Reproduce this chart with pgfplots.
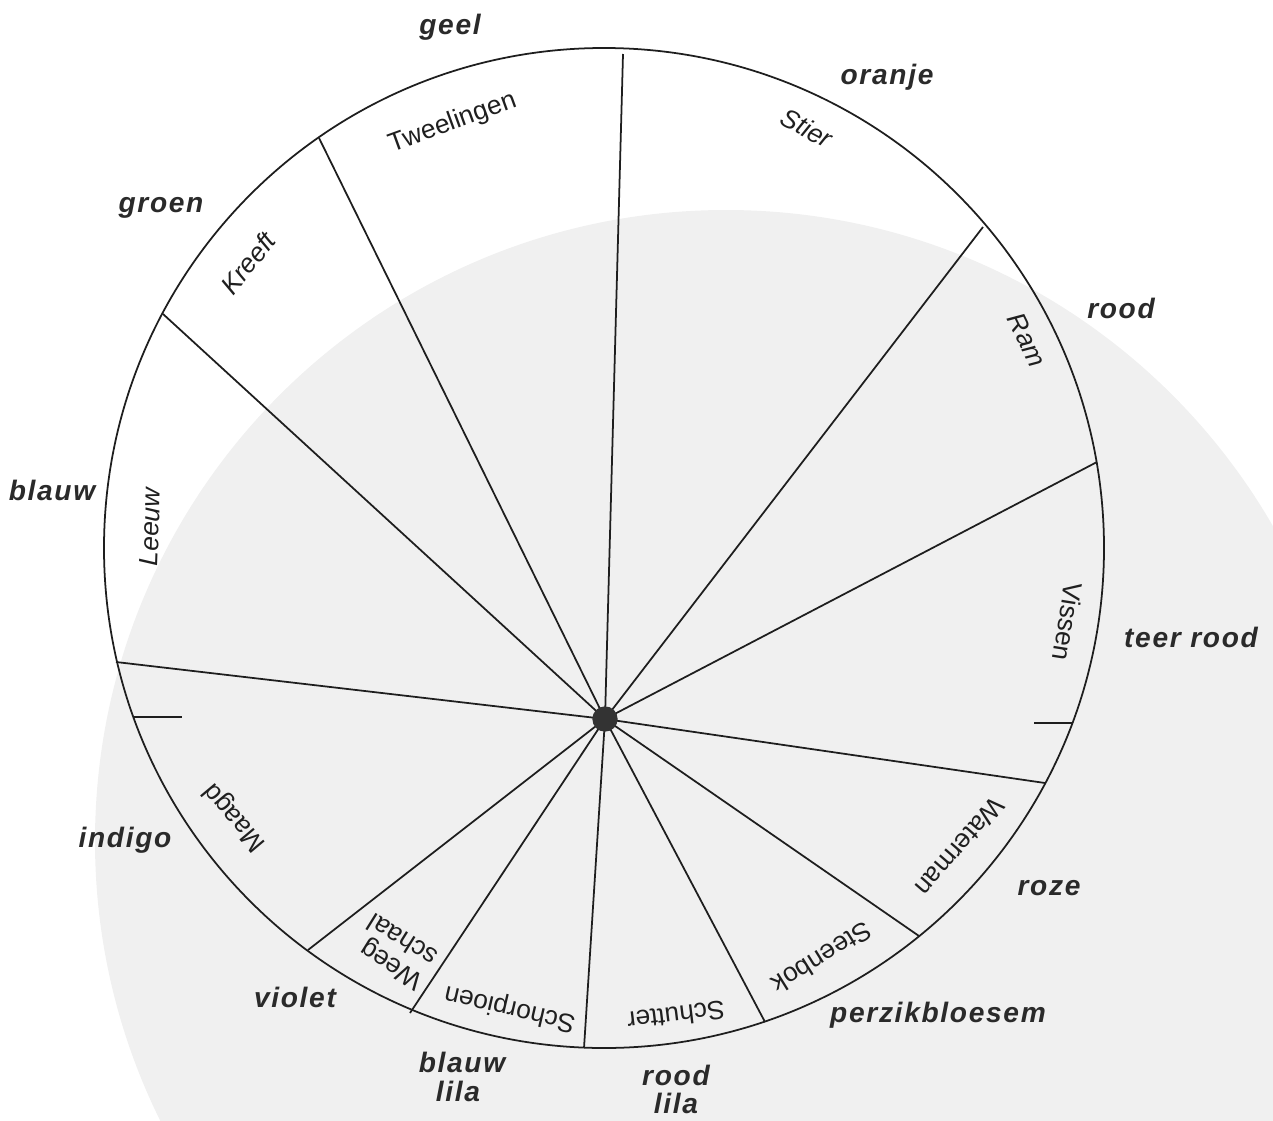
\documentclass[border=0pt]{standalone}
\usepackage{pgfplots}
\pgfplotsset{compat=1.18}
\usepackage{fontspec}
\setmainfont{Liberation Sans}
\newfontfamily\outerfont[LetterSpace=6]{Liberation Sans}
\definecolor{ink}{HTML}{2A2A2A}
\definecolor{linec}{HTML}{1E1E1E}
\begin{document}
\begin{tikzpicture}[
  olab/.style={font={\outerfont\bfseries\itshape\fontsize{8}{8.4}\selectfont}, text=ink, anchor=base, inner sep=0pt},
  ilab/.style={font={\fontsize{7.5}{7.9}\selectfont}, text=black!88, inner sep=0pt, anchor=center},
]
\begin{axis}[
  scale only axis, width=12.73cm, height=11.2cm,
  xmin=0, xmax=1273, ymin=0, ymax=1120, y dir=reverse,
  hide axis, clip=true,
]
% faint grey paper shading of the scan
\fill[black!6] (axis cs:726,841) circle[radius=6.31cm];

% spokes from the hub
\addplot[linec, line width=0.5pt] coordinates {(605,719) (623,54)};
\addplot[linec, line width=0.5pt] coordinates {(605,719) (319,138)};
\addplot[linec, line width=0.5pt] coordinates {(605,719) (163,314)};
\addplot[linec, line width=0.5pt] coordinates {(605,719) (116,662)};
\addplot[linec, line width=0.5pt] coordinates {(605,719) (308,950)};
\addplot[linec, line width=0.5pt] coordinates {(605,719) (410,1013)};
\addplot[linec, line width=0.5pt] coordinates {(605,719) (584,1048)};
\addplot[linec, line width=0.5pt] coordinates {(605,719) (765,1022)};
\addplot[linec, line width=0.5pt] coordinates {(605,719) (919,936)};
\addplot[linec, line width=0.5pt] coordinates {(605,719) (1045,783)};
\addplot[linec, line width=0.5pt] coordinates {(605,719) (1097,462)};
\addplot[linec, line width=0.5pt] coordinates {(605,719) (983,227)};
% short ticks at hub height
\addplot[linec, line width=0.5pt] coordinates {(133,717) (182,717)};
\addplot[linec, line width=0.5pt] coordinates {(1034,723) (1072,723)};

% outer circle
\draw[linec, line width=0.5pt] (axis cs:604,548) circle[radius=5cm];

% hub
\addplot[only marks, mark=*, mark size=3.4pt, color=black!80] coordinates {(605,719)};

% outer colour names
\node[olab] at (axis cs:450,35) {geel};
\node[olab] at (axis cs:887,84) {oranje};
\node[olab] at (axis cs:1121,318) {rood};
\node[olab] at (axis cs:1191,647) {teer rood};
\node[olab] at (axis cs:1049,895) {roze};
\node[olab] at (axis cs:938,1022) {perzikbloesem};
\node[olab] at (axis cs:676,1085) {rood};
\node[olab] at (axis cs:676,1113) {lila};
\node[olab] at (axis cs:462,1072) {blauw};
\node[olab] at (axis cs:458,1101) {lila};
\node[olab] at (axis cs:295,1007) {violet};
\node[olab] at (axis cs:125,847) {indigo};
\node[olab] at (axis cs:52,500) {blauw};
\node[olab] at (axis cs:161,212) {groen};

% inner sign names
\node[ilab, rotate=20] at (axis cs:453,123) {Tweelingen};
\node[ilab, rotate=-28] at (axis cs:807,128) {\itshape Stier};
\node[ilab, rotate=-64] at (axis cs:1027,340) {\itshape Ram};
\node[ilab, rotate=-99] at (axis cs:1068,622) {Vissen};
\node[ilab, rotate=229] at (axis cs:960,847) {Waterman};
\node[ilab, rotate=212] at (axis cs:822,958) {Steenbok};
\node[ilab, rotate=187] at (axis cs:676,1016) {Schutter};
\node[ilab, rotate=167] at (axis cs:510,1008) {Schorpioen};
\node[ilab, rotate=148, align=left] at (axis cs:395,952) {Weeg\\schaal};
\node[ilab, rotate=130] at (axis cs:235,817) {Maagd};
\node[ilab, rotate=88] at (axis cs:150,527) {\itshape Leeuw};
\node[ilab, rotate=51] at (axis cs:248,263) {\itshape Kreeft};
\end{axis}
\pgfresetboundingbox
\useasboundingbox (current axis.south west) rectangle (current axis.north east);
\end{tikzpicture}
\end{document}
